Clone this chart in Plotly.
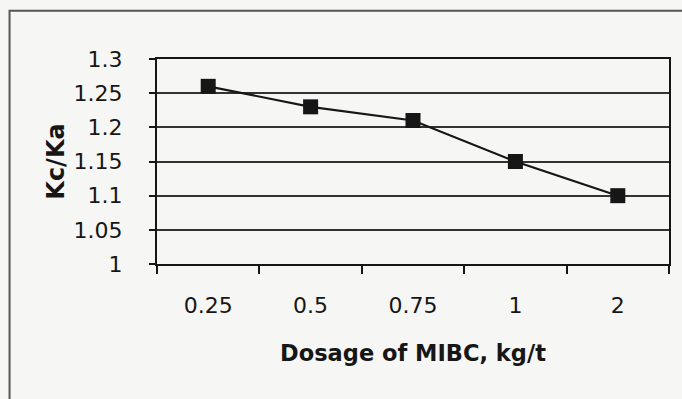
import plotly.graph_objects as go

# MIBC dosage (kg/t) and the Kc/Ka ratio measured at each dosage
dosage = ["0.25", "0.5", "0.75", "1", "2"]
kc_ka = [1.26, 1.23, 1.21, 1.15, 1.10]
y_ticks = [1.0, 1.05, 1.1, 1.15, 1.2, 1.25, 1.3]
y_tick_text = ["1", "1.05", "1.1", "1.15", "1.2", "1.25", "1.3"]

INK = "#161616"
GRID = "#333333"
PAPER = "#f6f6f4"
FONT = "DejaVu Sans, Liberation Sans, sans-serif"

fig = go.Figure(
    go.Scatter(
        x=dosage,
        y=kc_ka,
        mode="lines+markers",
        line=dict(color=INK, width=2.2),
        marker=dict(symbol="square", size=15, color=INK),
        showlegend=False,
    )
)

fig.update_layout(
    width=682,
    height=399,
    margin=dict(l=157, r=13, t=59, b=135),
    paper_bgcolor=PAPER,
    plot_bgcolor=PAPER,
    font=dict(family=FONT, color=INK),
)

fig.update_xaxes(
    type="category",
    range=[-0.5, len(dosage) - 0.5],
    tickson="boundaries",
    ticks="outside",
    ticklen=8,
    tickwidth=1.5,
    tickcolor=INK,
    showline=True,
    linecolor=INK,
    linewidth=2,
    mirror=True,
    showgrid=False,
    tickfont=dict(size=22, family=FONT, color=INK),
    ticklabelstandoff=21,
    title=dict(
        text="<b>Dosage of MIBC, kg/t</b>",
        font=dict(size=22.5, family=FONT, color=INK),
        standoff=28,
    ),
)

fig.update_yaxes(
    range=[1.0, 1.3],
    tickvals=y_ticks,
    ticktext=y_tick_text,
    ticks="outside",
    ticklen=6,
    tickwidth=1.5,
    tickcolor=INK,
    showline=True,
    linecolor=INK,
    linewidth=2,
    mirror=True,
    showgrid=True,
    gridcolor=GRID,
    gridwidth=1.8,
    zeroline=False,
    tickfont=dict(size=22, family=FONT, color=INK),
    ticklabelstandoff=22,
    title=dict(
        text="<b>Kc/Ka</b>",
        font=dict(size=24, family=FONT, color=INK),
        standoff=2,
    ),
)

# Outer chart frame (open at the right and bottom edges of the page)
fig.add_shape(
    type="path",
    xref="paper",
    yref="paper",
    path="M -0.288,-0.7 L -0.288,1.235 L 1.05,1.235",
    line=dict(color="#555555", width=2),
)

fig.write_html("out.html")
